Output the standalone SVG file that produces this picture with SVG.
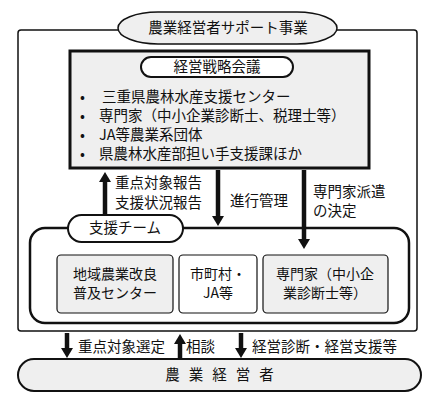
<svg xmlns="http://www.w3.org/2000/svg" width="441" height="406" viewBox="0 0 441 406">
<defs>
<style>
text{font-family:"Noto Sans CJK JP","Noto Sans CJK SC",sans-serif;font-size:14.5px;fill:#111}
.c{text-anchor:middle}
.b{font-size:14px}
.sh{stroke:#111;stroke-width:4.5;fill:none}
.hd{fill:#111;stroke:none}
</style>
</defs>
<rect width="441" height="406" fill="#fff"/>
<g id="outer">
<rect x="18" y="30" width="399" height="301" rx="3" fill="#fff" stroke="#111" stroke-width="1.5"/>
</g>
<g id="title">
<rect x="118" y="12" width="219" height="32" rx="40" ry="16" fill="#efefef" stroke="#111" stroke-width="1.5"/>
<text class="c" x="228" y="33">農業経営者サポート事業</text>
</g>
<g id="council">
<rect x="70" y="51" width="299" height="117" fill="#efefef" stroke="#111" stroke-width="3"/>
<rect x="141" y="57" width="152" height="20" rx="10" fill="#fff" stroke="#111" stroke-width="2"/>
<text class="c" x="217" y="72">経営戦略会議</text>
<text x="80" y="102">•</text><text x="102" y="102">三重県農林水産支援センター</text>
<text x="80" y="121">•</text><text x="99" y="121">専門家（中小企業診断士、税理士等）</text>
<text x="80" y="140">•</text><text x="99" y="140">JA等農業系団体</text>
<text x="80" y="159">•</text><text x="99" y="159">県農林水産部担い手支援課ほか</text>
</g>
<g id="team">
<rect x="30" y="228" width="379" height="95" rx="15" fill="#fff" stroke="#111" stroke-width="2.5"/>
<rect x="68" y="215" width="115" height="27" rx="13.5" fill="#fff" stroke="#111" stroke-width="2"/>
<text class="c" x="125" y="233">支援チーム</text>
</g>
<g id="box1">
<rect x="57" y="255" width="116" height="58" rx="4" fill="#efefef" stroke="#111" stroke-width="1.2"/>
<text class="c b" x="115" y="279">地域農業改良</text>
<text class="c b" x="115" y="298">普及センター</text>
</g>
<g id="box2">
<rect x="179" y="255" width="78" height="58" rx="4" fill="#fff" stroke="#111" stroke-width="1.2"/>
<text class="c b" x="218" y="279">市町村・</text>
<text class="c b" x="218" y="298">JA等</text>
</g>
<g id="box3">
<rect x="263" y="255" width="125" height="58" rx="4" fill="#efefef" stroke="#111" stroke-width="1.2"/>
<text class="c b" x="325" y="279">専門家（中小企</text>
<text class="c b" x="325" y="298">業診断士等）</text>
</g>
<g id="farmers">
<rect x="18" y="359" width="403" height="32" rx="16" fill="#efefef" stroke="#111" stroke-width="2"/>
<text class="c" x="224" y="380" style="letter-spacing:9px">農業経営者</text>
</g>
<g id="connectors">
<line class="sh" x1="105" y1="214" x2="105" y2="181"/>
<polygon class="hd" points="99,182 111,182 105,172"/>
<line class="sh" x1="218" y1="170" x2="218" y2="217"/>
<polygon class="hd" points="212,216 224,216 218,226"/>
<line class="sh" x1="304" y1="170" x2="304" y2="240"/>
<polygon class="hd" points="298,239 310,239 304,249"/>
<line class="sh" x1="67" y1="333" x2="67" y2="349"/>
<polygon class="hd" points="61,348 73,348 67,358"/>
<line class="sh" x1="180" y1="358" x2="180" y2="343"/>
<polygon class="hd" points="174,344 186,344 180,334"/>
<line class="sh" x1="241" y1="333" x2="241" y2="349"/>
<polygon class="hd" points="235,348 247,348 241,358"/>
</g>
<g id="labels">
<text x="115" y="188">重点対象報告</text>
<text x="115" y="208">支援状況報告</text>
<text x="230" y="206">進行管理</text>
<text x="313" y="197">専門家派遣</text>
<text x="313" y="216">の決定</text>
<text x="78" y="352">重点対象選定</text>
<text x="186" y="352">相談</text>
<text x="252" y="352">経営診断・経営支援等</text>
</g>
</svg>
